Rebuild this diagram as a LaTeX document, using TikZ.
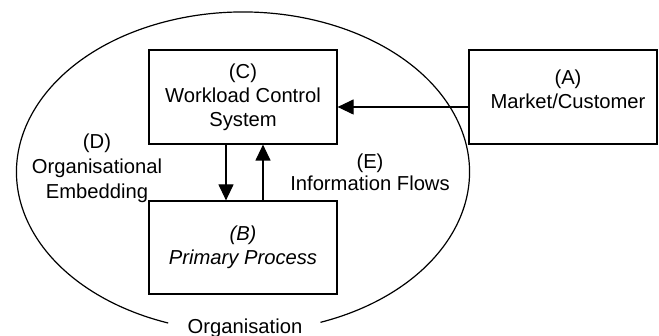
\documentclass[tikz,border=0pt]{standalone}
\usepackage{fontspec}
\setmainfont{Liberation Sans}
\usetikzlibrary{arrows.meta}
\begin{document}
\begin{tikzpicture}[x=0.5pt,y=0.5pt,
  line width=0.6pt,
  every node/.style={font=\fontsize{10.1}{12}\selectfont},
  box/.style={draw, rectangle, minimum width=94pt, minimum height=47pt, inner sep=0pt, align=center},
  txt/.style={align=center, inner sep=0pt},
  flow/.style={-{Triangle[length=8pt,width=7.5pt]}}]
\useasboundingbox (0,0) rectangle (659,336);
% organisation ellipse (open at the bottom for its label)
\coordinate (orgc) at (243,164);
\draw ([shift={(-70:113.25pt and 80pt)}]orgc) arc[start angle=-70, end angle=250.7, x radius=113.25pt, y radius=80pt];
\node[txt] (org) at (245,8) {Organisation};
% boxes
\node[box] (C) at (243,239) {(C)\\Workload Control\\System};
\node[box, minimum height=46.5pt] (B) at (243,88.5) {\itshape (B)\\\itshape Primary Process};
\node[box] (A) at (563,239) {};
\node[txt] (Atext) at (568,247) {(A)\\Market/Customer};
% labels
\node[txt, font=\fontsize{10.1}{12.5}\selectfont] (D) at (97,168) {(D)\\Organisational\\Embedding};
\node[txt, font=\fontsize{10.1}{11}\selectfont] (E) at (370,164) {(E)\\Information Flows};
% connectors
\draw[flow] ([yshift=-5pt]A.west) -- ([yshift=-5pt]C.east);
\draw[flow] ([xshift=-8.5pt]C.south) -- ([xshift=-8.5pt]B.north);
\draw[flow] ([xshift=10pt]B.north) -- ([xshift=10pt]C.south);
\end{tikzpicture}
\end{document}
